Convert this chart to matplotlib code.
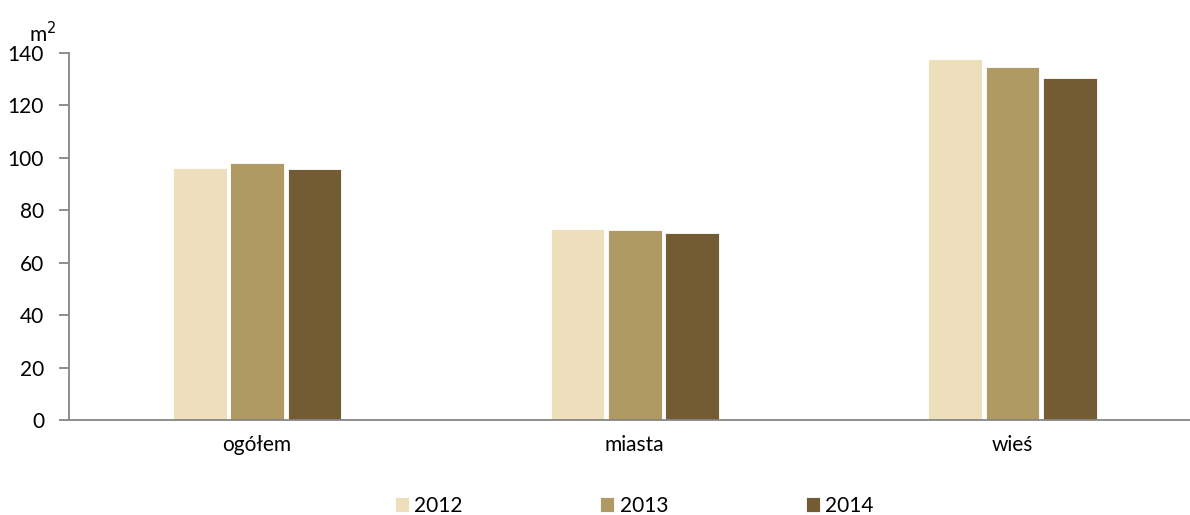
import matplotlib
matplotlib.use("Agg")
import matplotlib.pyplot as plt
import numpy as np

categories = ["ogółem", "miasta", "wieś"]
years = ["2012", "2013", "2014"]
values_2012 = [96.2, 72.9, 137.7]
values_2013 = [98.1, 72.4, 134.6]
values_2014 = [95.8, 71.3, 130.4]
yticks = [0, 20, 40, 60, 80, 100, 120, 140]

colors = ["#EDDFBC", "#B09A63", "#735B33"]

plt.rcParams["font.family"] = ["Lato", "DejaVu Sans"]
fs = 15

fig = plt.figure(figsize=(11.9, 5.15), dpi=100)
ax = fig.add_axes([0.058, 0.1845, 0.942, 0.7126])

x = np.arange(len(categories))
pitch = 0.152
width = 0.142
series = [values_2012, values_2013, values_2014]
for i, (vals, col, lab) in enumerate(zip(series, colors, years)):
    ax.bar(x + (i - 1) * pitch, vals, width=width, color=col, label=lab,
           edgecolor="white", linewidth=0.6)

ax.set_xlim(-0.498, 2.47)
ax.set_ylim(0, 140)
ax.set_yticks(yticks)
ax.set_xticks(x)
ax.set_xticklabels(categories)

for s in ["top", "right"]:
    ax.spines[s].set_visible(False)
for s in ["left", "bottom"]:
    ax.spines[s].set_color("#868686")
    ax.spines[s].set_linewidth(1.3)

ax.tick_params(axis="y", length=7, width=1.3, color="#868686",
               labelsize=fs, pad=11, direction="out")
ax.tick_params(axis="x", length=0, labelsize=fs, pad=11)

fig.text(0.024, 0.935, "m$^2$", fontsize=fs, ha="left", va="center")

fig.legend(loc="center", bbox_to_anchor=(0.533, 0.018), ncol=3,
           frameon=False, fontsize=fs, handlelength=0.67, handleheight=0.67,
           handletextpad=0.25, columnspacing=6.6)

fig.savefig("out.png", dpi=100)
